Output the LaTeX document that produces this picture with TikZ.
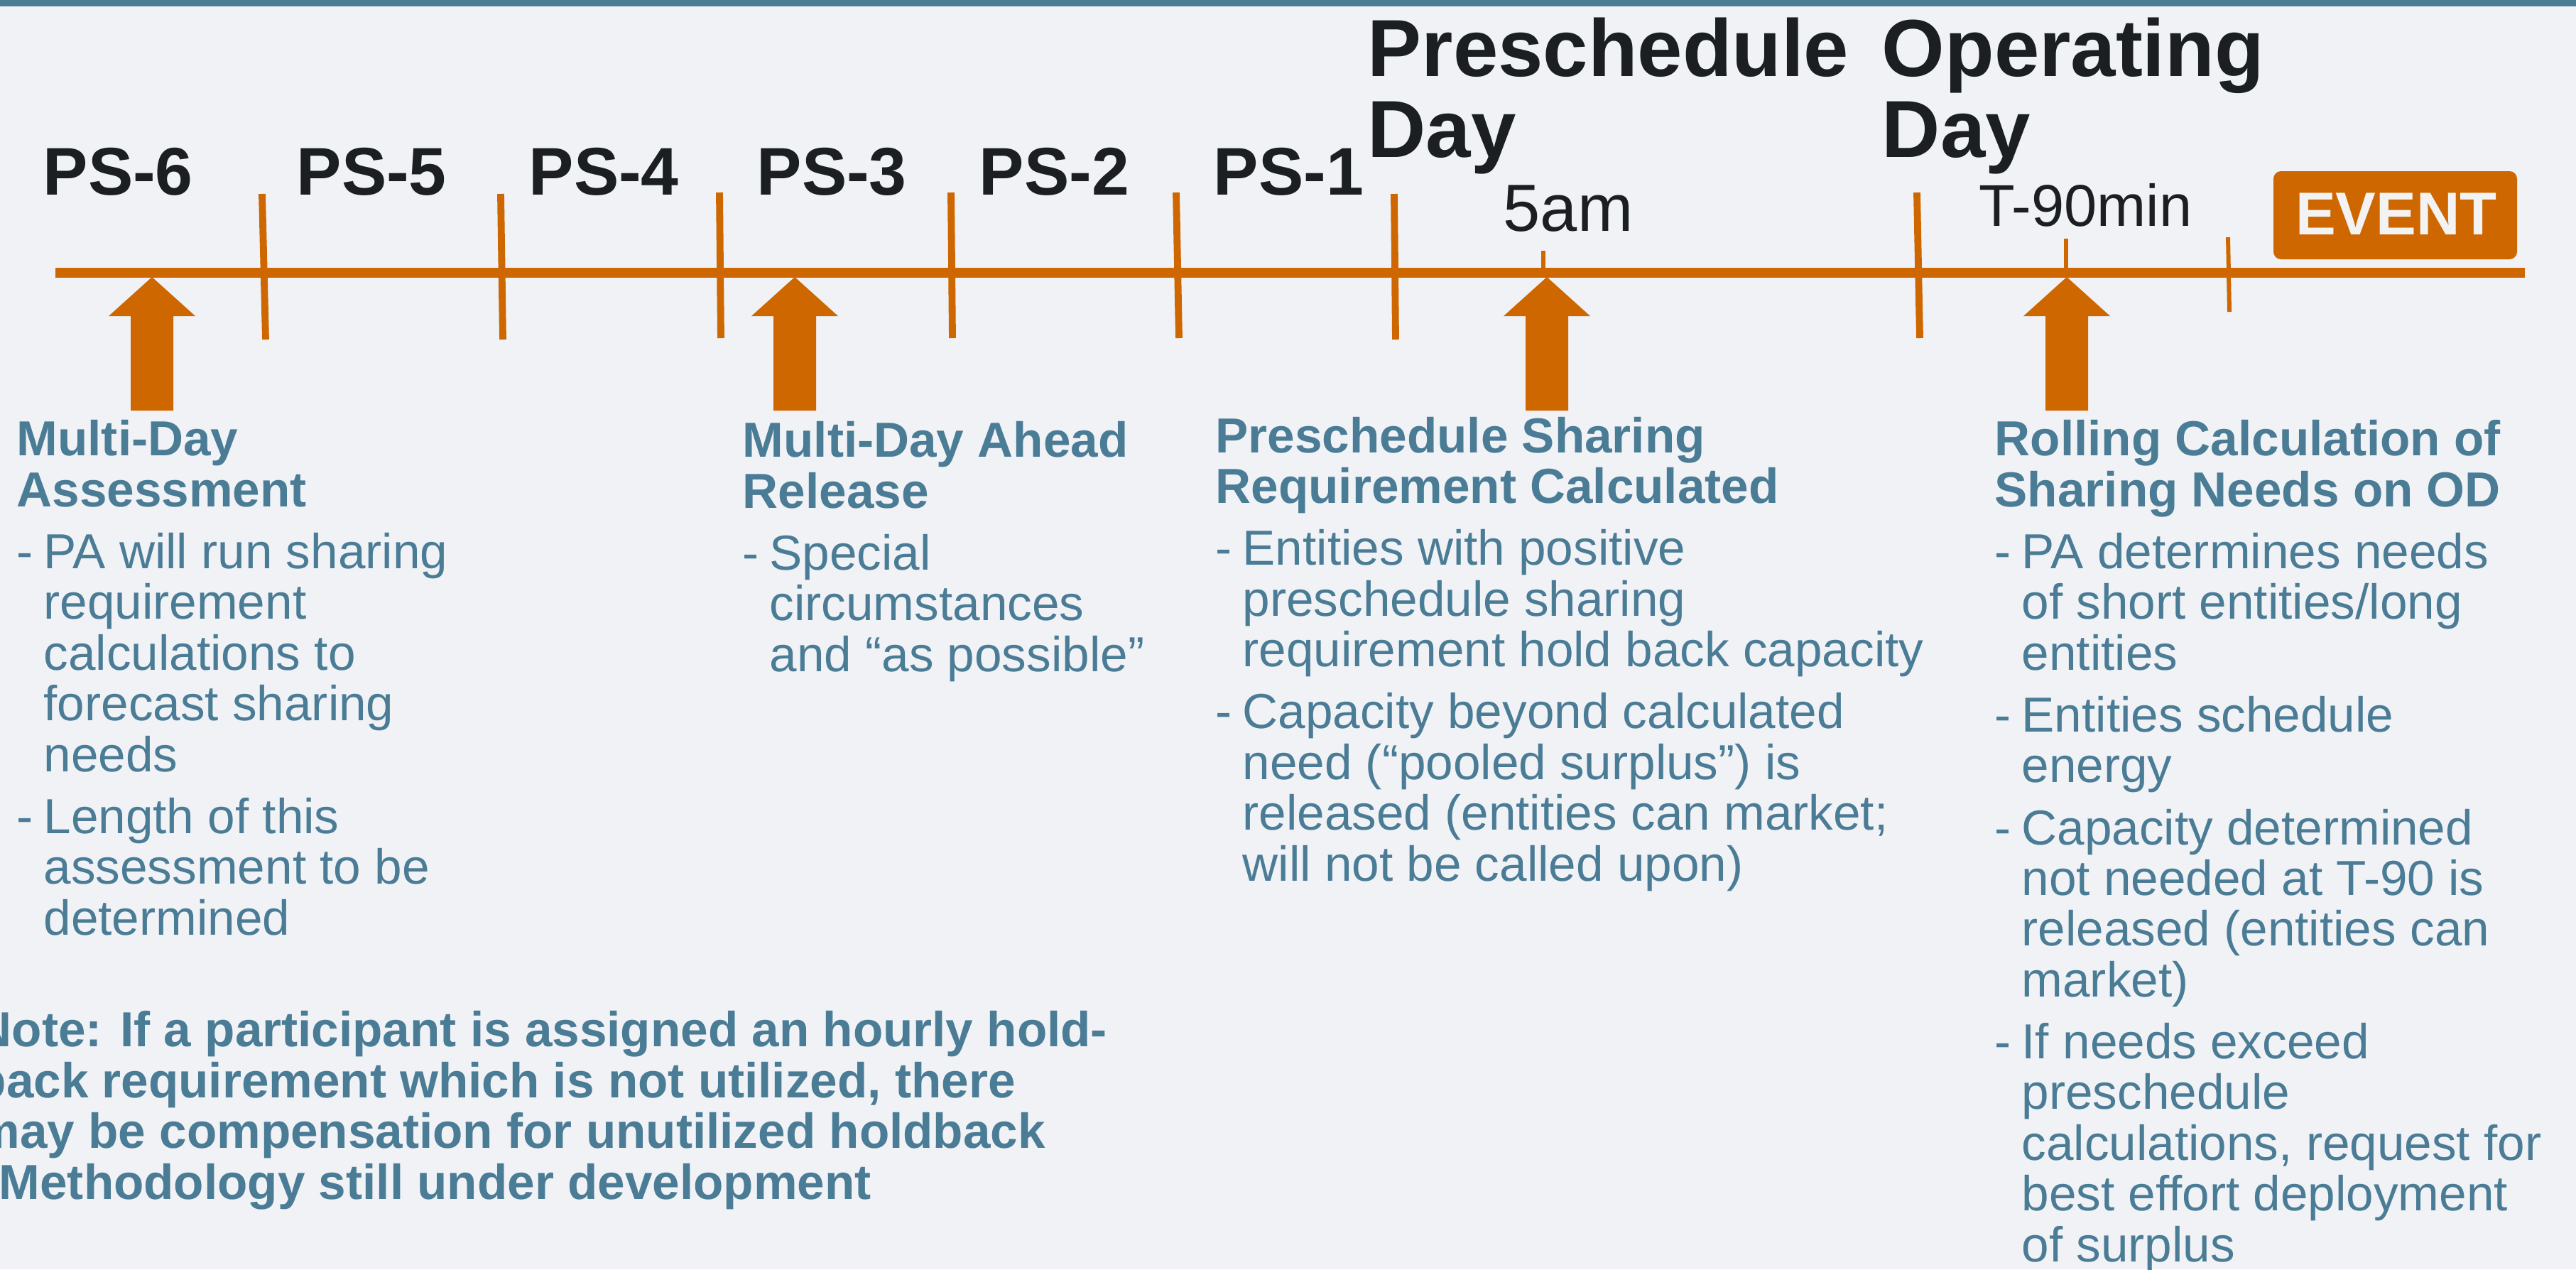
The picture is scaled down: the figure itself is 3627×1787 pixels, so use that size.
\documentclass[tikz,border=0pt]{standalone}
\usepackage{fontspec}
\setmainfont{Liberation Sans}
\definecolor{bg}{HTML}{F0F2F6}
\definecolor{org}{HTML}{CE6700}
\definecolor{blu}{HTML}{4B7C96}
\definecolor{inkc}{HTML}{1B1F22}
\definecolor{evtxt}{HTML}{F3F3F3}
\newcommand{\bl}{\makebox[10.8pt][l]{-}}
\newcommand{\ind}{\hspace*{10.8pt}}
\begin{document}
\begin{tikzpicture}[x=0.01cm,y=-0.01cm,
  pslabel/.style={anchor=base west, inner sep=0, font=\fontsize{27}{27}\selectfont\bfseries, text=inkc},
  bigday/.style={anchor=base west, inner sep=0, align=left, font=\fontsize{32.4}{32.2}\selectfont\bfseries, text=inkc},
  timelbl/.style={anchor=base west, inner sep=0, text=inkc},
  block/.style={anchor=base west, inner sep=0, align=left, text=blu, font=\fontsize{19.7}{20.3}\selectfont},
  longtick/.style={draw=org, line width=2.8pt},
  shorttick/.style={draw=org, line width=1.7pt},
  bigarrow/.style={fill=org}]
\useasboundingbox (0,0) rectangle (3627,1787);
\clip (0,0) rectangle (3627,1787);
\fill[bg] (0,0) rectangle (3627,1787);
\fill[blu] (0,0) rectangle (3627,9);

% timeline
\coordinate (tlstart) at (78,384);
\coordinate (tlend) at (3555,384);
\draw[org, line width=3.8pt] (tlstart) -- (tlend);

% long ticks
\foreach \xa/\xb/\ya/\yb in {369/374/273/478, 705/708/273/478, 1013/1015/271/476, 1339/1341/271/476, 1656/1660/271/476, 1963/1965/273/478, 2699/2703/271/476}{
  \draw[longtick] (\xa,\ya) -- (\xb,\yb);
}
% short ticks
\draw[shorttick] (2173,353) -- (2173,384);
\draw[shorttick] (2909,336) -- (2909,384);
\draw[shorttick] (3137,334) -- (3139,439);

% arrows
\foreach \c in {214,1119,2178,2910}{
  \fill[bigarrow] (\c-30,578) -- (\c-30,445) -- (\c-61,445) -- (\c,390) -- (\c+61,445) -- (\c+30,445) -- (\c+30,578) -- cycle;
}

% period labels
\node[pslabel] (ps6) at (60,274) {PS-6};
\node[pslabel] (ps5) at (417,274) {PS-5};
\node[pslabel] (ps4) at (744,274) {PS-4};
\node[pslabel] (ps3) at (1065,274) {PS-3};
\node[pslabel] (ps2) at (1378,274) {PS-2};
\node[pslabel] (ps1) at (1708,274) {PS-1};
% multi-line nodes: base anchor is the last line
\node[bigday] (pday) at (1925,221) {Preschedule\\Day};
\node[bigday] (oday) at (2649,221) {Operating\\Day};
\node[timelbl, font=\fontsize{26.7}{26.7}\selectfont] (fiveam) at (2116,325) {5am};
\node[timelbl, font=\fontsize{23.6}{23.6}\selectfont] (t90) at (2786,318) {T-90min};

% event box
\fill[org, rounded corners=3] (3201,241) rectangle (3544,365);
\node[anchor=base, inner sep=0, text=evtxt, font=\fontsize{24.2}{24.2}\selectfont\bfseries] (event) at (3374,330) {EVENT};

% text blocks
\node[block] (assess) at (23,1316) {\textbf{Multi-Day}\\\textbf{Assessment}\\[4.5pt]%
\bl PA will run sharing\\\ind requirement\\\ind calculations to\\\ind forecast sharing\\\ind needs\\[4.5pt]%
\bl Length of this\\\ind assessment to be\\\ind determined};

\node[block] (ahead) at (1045,945) {\textbf{Multi-Day Ahead}\\\textbf{Release}\\[4.5pt]%
\bl Special\\\ind circumstances\\\ind and “as possible”};

\node[block] (pssr) at (1711,1240) {\textbf{Preschedule Sharing}\\\textbf{Requirement Calculated}\\[4.5pt]%
\bl Entities with positive\\\ind preschedule sharing\\\ind requirement hold back capacity\\[4.5pt]%
\bl Capacity beyond calculated\\\ind need (“pooled surplus”) is\\\ind released (entities can market;\\\ind will not be called upon)};

\node[block] (rolling) at (2808,1776) {\textbf{Rolling Calculation of}\\\textbf{Sharing Needs on OD}\\[4.5pt]%
\bl PA determines needs\\\ind of short entities/long\\\ind entities\\[4.5pt]%
\bl Entities schedule\\\ind energy\\[4.5pt]%
\bl Capacity determined\\\ind not needed at T-90 is\\\ind released (entities can\\\ind market)\\[4.5pt]%
\bl If needs exceed\\\ind preschedule\\\ind calculations, request for\\\ind best effort deployment\\\ind of surplus};

\node[block, font=\fontsize{19.7}{20.3}\selectfont\bfseries] (note) at (-34,1688) {Note: If a participant is assigned an hourly hold-\\back requirement which is not utilized, there\\may be compensation for unutilized holdback\\\hspace*{9.1pt}Methodology still under development};
\end{tikzpicture}
\end{document}
